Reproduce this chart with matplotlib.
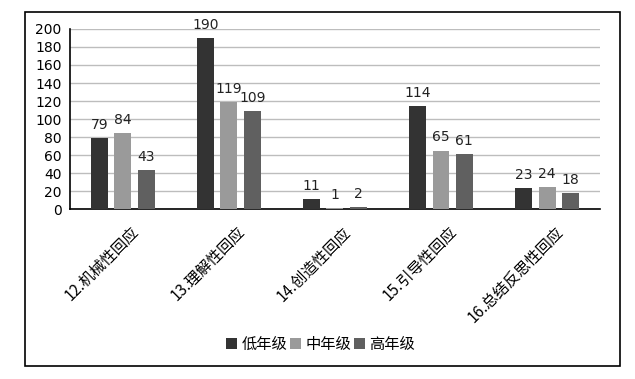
import matplotlib
matplotlib.use("Agg")
import matplotlib.pyplot as plt
import matplotlib.transforms as mtransforms
import numpy as np
from matplotlib.patches import Rectangle

categories = ["12.机械性回应", "13.理解性回应", "14.创造性回应", "15.引导性回应", "16.总结反思性回应"]
series_names = ["低年级", "中年级", "高年级"]
low = [79, 190, 11, 114, 23]
mid = [84, 119, 1, 65, 24]
high = [43, 109, 2, 61, 18]
colors = ["#333333", "#9a9a9a", "#606060"]

plt.rcParams['font.family'] = ['Noto Sans CJK SC', 'DejaVu Sans']

fig = plt.figure(figsize=(6.35, 3.79), dpi=100)
ax = fig.add_axes([0.110, 0.4485, 0.835, 0.475])

x = np.arange(len(categories))
w = 0.16
step = 0.22
for i, (vals, name, c) in enumerate(zip([low, mid, high], series_names, colors)):
    pos = x + (i - 1) * step
    ax.bar(pos, vals, width=w, color=c, label=name, zorder=3)
    for p, v in zip(pos, vals):
        ax.text(p, v + 7, str(v), ha='center', va='bottom', fontsize=10,
                family='DejaVu Sans', color='#222222')

ax.set_xlim(-0.5, len(categories) - 0.5)
ax.set_ylim(0, 200)
ax.set_yticks(range(0, 201, 20))
ax.tick_params(axis='y', length=0, labelsize=10, pad=6)
for lab in ax.get_yticklabels():
    lab.set_family('DejaVu Sans')
ax.set_xticks(x)
ax.set_xticklabels(categories, rotation=45, ha='right', rotation_mode='anchor',
                   fontsize=11)
ax.tick_params(axis='x', length=0, pad=4)
offset = mtransforms.ScaledTranslation(8 / 100, -9 / 100, fig.dpi_scale_trans)
for lab in ax.get_xticklabels():
    lab.set_transform(lab.get_transform() + offset)
ax.yaxis.grid(True, color='#bdbdbd', linewidth=1, zorder=0)
ax.set_axisbelow(True)
for s in ['top', 'right']:
    ax.spines[s].set_visible(False)
ax.spines['left'].set_color('black')
ax.spines['left'].set_linewidth(1.2)
ax.spines['bottom'].set_color('black')
ax.spines['bottom'].set_linewidth(1.2)

fig.legend(loc='center', bbox_to_anchor=(0.505, 0.092), ncol=3, frameon=False,
           fontsize=11, handlelength=0.7, handleheight=0.7, handletextpad=0.3,
           columnspacing=0.2)

fig.add_artist(Rectangle((25/635, 1 - 366/379), 595/635, 354/379,
                         transform=fig.transFigure, fill=False,
                         edgecolor='black', linewidth=1.2))

fig.savefig("out.png", dpi=100)
